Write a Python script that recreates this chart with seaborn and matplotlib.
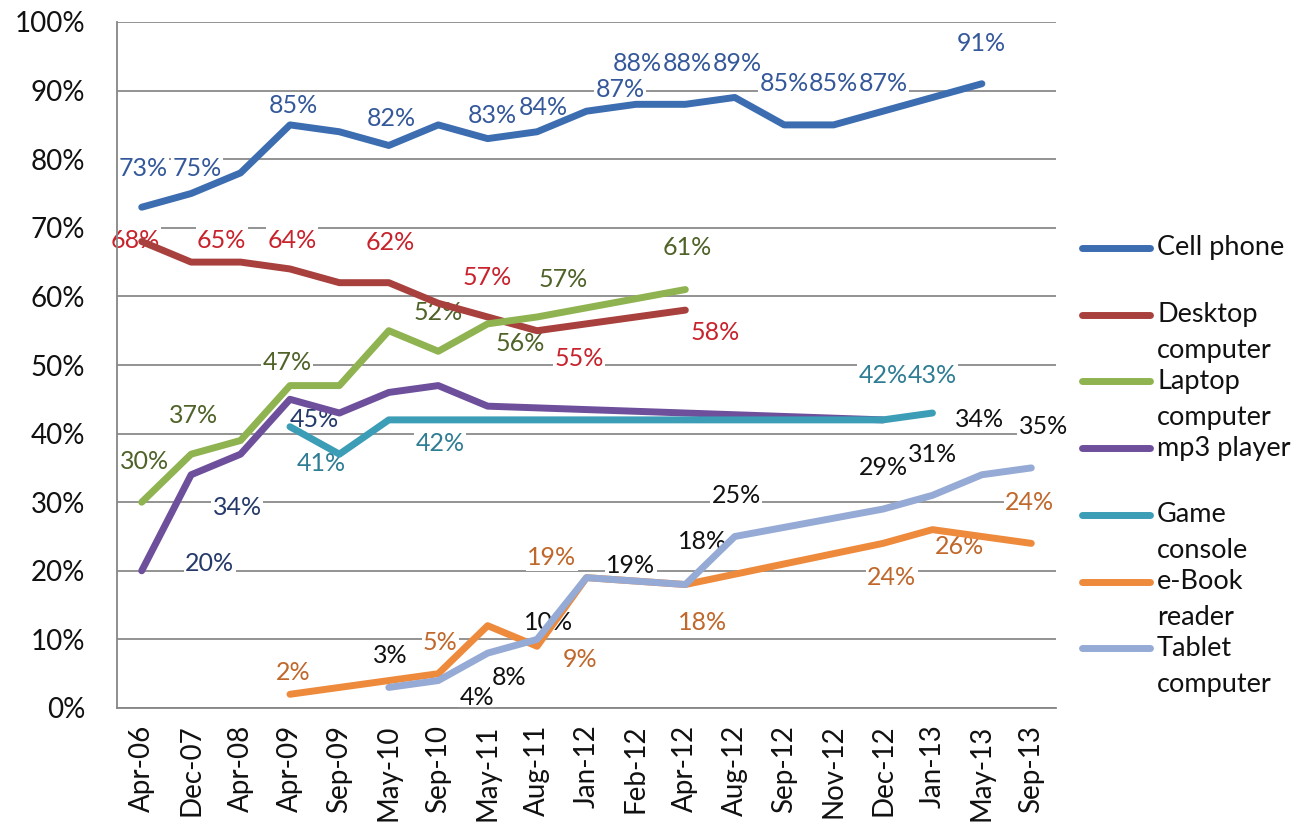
import numpy as np
import pandas as pd
import matplotlib
matplotlib.use("Agg")
import matplotlib.pyplot as plt
import seaborn as sns
from matplotlib.lines import Line2D
from matplotlib.ticker import FixedLocator, FuncFormatter

nan = np.nan

# ---------------- data ----------------
categories = ["Apr-06", "Dec-07", "Apr-08", "Apr-09", "Sep-09", "May-10", "Sep-10",
              "May-11", "Aug-11", "Jan-12", "Feb-12", "Apr-12", "Aug-12", "Sep-12",
              "Nov-12", "Dec-12", "Jan-13", "May-13", "Sep-13"]

cell_phone = [73, 75, 78, 85, 84, 82, 85, 83, 84, 87, 88, 88, 89, 85, 85, 87, nan, 91, nan]
desktop    = [68, 65, 65, 64, 62, 62, 59, 57, 55, nan, nan, 58, nan, nan, nan, nan, nan, nan, nan]
laptop     = [30, 37, 39, 47, 47, 55, 52, 56, 57, nan, nan, 61, nan, nan, nan, nan, nan, nan, nan]
mp3_player = [20, 34, 37, 45, 43, 46, 47, 44, nan, nan, nan, nan, nan, nan, nan, 42, nan, nan, nan]
game       = [nan, nan, nan, 41, 37, 42, 42, nan, nan, nan, nan, nan, nan, nan, nan, 42, 43, nan, nan]
ebook      = [nan, nan, nan, 2, nan, nan, 5, 12, 9, 19, nan, 18, nan, nan, nan, 24, 26, nan, 24]
tablet     = [nan, nan, nan, nan, nan, 3, 4, 8, 10, 19, nan, 18, 25, nan, nan, 29, 31, 34, 35]

series_names = ["Cell phone", "Desktop computer", "Laptop computer", "mp3 player",
                "Game console", "e-Book reader", "Tablet computer"]
series_values = [cell_phone, desktop, laptop, mp3_player, game, ebook, tablet]
legend_labels = ["Cell phone", "Desktop\ncomputer", "Laptop\ncomputer", "mp3 player",
                 "Game\nconsole", "e-Book\nreader", "Tablet\ncomputer"]

# which points carry a data label
labeled_idx = [
    [0, 1, 3, 5, 7, 8, 9, 10, 11, 12, 13, 14, 15, 17],
    [0, 1, 3, 5, 7, 8, 11],
    [0, 1, 3, 6, 7, 8, 11],
    [0, 1, 3],
    [3, 6, 15, 16],
    [3, 6, 8, 9, 11, 15, 16, 18],
    [5, 6, 7, 8, 9, 11, 12, 15, 16, 17, 18],
]

# ---------------- style ----------------
line_colors = ["#3C6DB0", "#A8403D", "#8FB350", "#6E4F9B", "#3B9DB6", "#EE8A3C", "#95AAD5"]
label_colors = ["#34589A", "#C8232C", "#4F6228", "#253A6A", "#2F7D95", "#C0672B", "#111111"]

# label offsets (category units, percentage points) relative to their point
label_offsets = [
    [(0.03, 5.7), (0.12, 3.7), (0.06, 2.8), (0.06, 4.0), (0.09, 3.4), (0.12, 3.5),
     (0.68, 3.2), (0.02, 6.0), (0.03, 6.0), (0.05, 5.0), (0.0, 6.1), (0.0, 6.1),
     (0.0, 4.1), (-0.02, 5.9)],
    [(-0.14, 0.2), (0.62, 3.2), (0.04, 4.2), (0.02, 5.8), (0.0, 5.7), (0.85, -4.0),
     (0.6, -3.2)],
    [(0.05, 5.9), (0.04, 5.7), (-0.06, 3.4), (0.0, 5.7), (0.65, -2.8), (0.52, 5.4),
     (0.03, 6.1)],
    [(1.38, 1.1), (0.93, -4.8), (0.5, -3.0)],
    [(0.63, -5.3), (0.04, -3.4), (0.0, 6.5), (0.0, 5.5)],
    [(0.06, 3.2), (0.04, 4.5), (0.87, -2.0), (-0.7, 2.9), (0.34, -5.5), (0.18, -5.0),
     (0.54, -2.5), (-0.03, 5.9)],
    [(0.02, 4.7), (0.78, -2.5), (0.43, -3.5), (0.24, 2.4), (0.9, 1.8), (0.34, 6.2),
     (0.03, 6.0), (0.0, 6.0), (0.0, 5.9), (-0.04, 8.0), (0.24, 6.0)],
]

W, H = 1297, 831
sns.set_style("white")
plt.rcParams["font.family"] = ["Lato", "DejaVu Sans"]

fig = plt.figure(figsize=(W / 100, H / 100), dpi=100)
ax = fig.add_axes([117 / W, 1 - 708 / H, (1056 - 117) / W, (708 - 22) / H])

# long-format table
rows = []
for name, vals in zip(series_names, series_values):
    for i, v in enumerate(vals):
        rows.append({"series": name, "x": i, "value": v})
df = pd.DataFrame(rows).dropna()

palette = dict(zip(series_names, line_colors))
sns.lineplot(data=df, x="x", y="value", hue="series", hue_order=series_names,
             palette=palette, estimator=None, sort=True, legend=False,
             linewidth=5, solid_capstyle="round", solid_joinstyle="round", ax=ax, zorder=2)

# data labels (white boxes above the gridlines, below the lines)
for s, (vals, idxs, offs) in enumerate(zip(series_values, labeled_idx, label_offsets)):
    for i, (dx, dy) in zip(idxs, offs):
        v = vals[i]
        ax.text(i + dx, v + dy, f"{v:.0f}%", ha="center", va="center",
                fontsize=18, color=label_colors[s], zorder=1.5,
                bbox=dict(boxstyle="square,pad=0.05", fc="white", ec="none"))

# axes
ax.set_xlim(-0.5, len(categories) - 0.5)
ax.set_ylim(0, 100)
ax.set_xticks(range(len(categories)))
ax.set_xticklabels(categories, rotation=90, fontsize=20, color="#111111")
ax.xaxis.set_minor_locator(FixedLocator(np.arange(-0.5, len(categories), 1.0)))
ax.tick_params(axis="x", which="major", length=0, pad=12)
ax.tick_params(axis="x", which="minor", length=7, width=1.3, color="#868686", direction="out")
ax.set_yticks(range(0, 101, 10))
ax.yaxis.set_major_formatter(FuncFormatter(lambda v, p: f"{v:.0f}%"))
ax.tick_params(axis="y", which="major", length=7, width=1.3, color="#868686",
               direction="out", pad=16, labelsize=20, labelcolor="#111111")
ax.grid(axis="y", color="#8a8a8a", linewidth=1.3, zorder=0.5)
ax.grid(axis="x", visible=False)
ax.set_axisbelow(True)
ax.set_xlabel("")
ax.set_ylabel("")
for side in ["top", "right"]:
    ax.spines[side].set_visible(False)
for side in ["left", "bottom"]:
    ax.spines[side].set_color("#868686")
    ax.spines[side].set_linewidth(1.3)

# legend (manual, handle aligned with first line of label)
y0, step, line_gap = 248, 66.7, 36
for k, (lab, col) in enumerate(zip(legend_labels, line_colors)):
    y = y0 + step * k
    fig.add_artist(Line2D([1082 / W, 1150 / W], [1 - y / H, 1 - y / H],
                          transform=fig.transFigure, color=col, linewidth=5,
                          solid_capstyle="round"))
    for j, part in enumerate(lab.split("\n")):
        fig.text(1157 / W, 1 - (y + j * line_gap) / H, part, ha="left", va="center",
                 fontsize=19.5, color="#111111")

fig.savefig("out.png", dpi=100, facecolor="white")
